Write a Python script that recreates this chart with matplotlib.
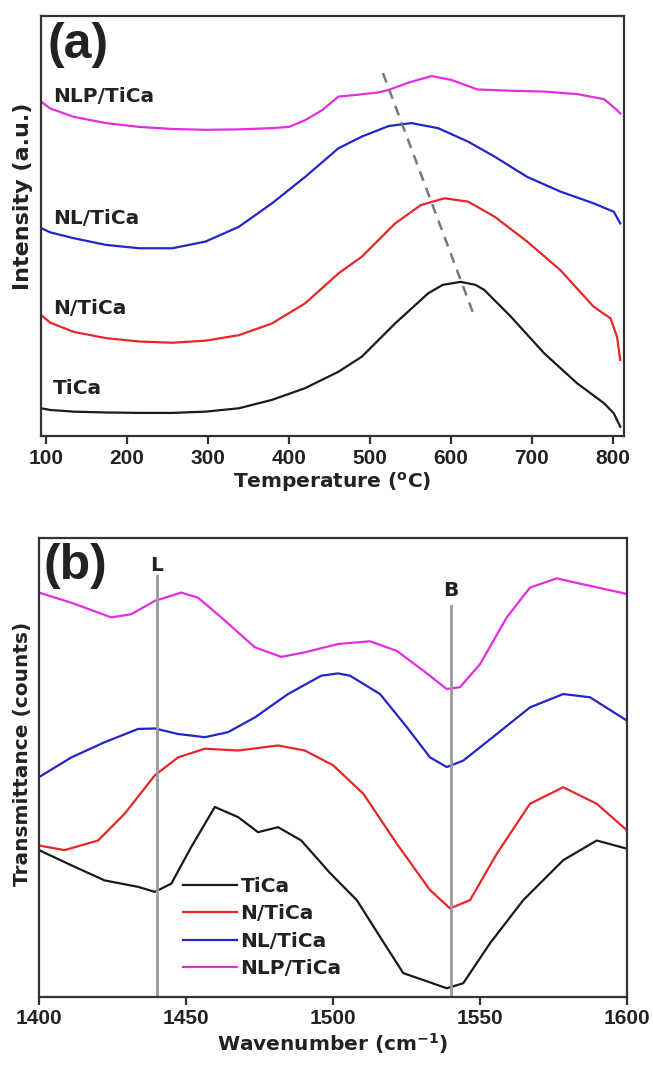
import matplotlib
matplotlib.use("Agg")
import matplotlib.pyplot as plt

plt.rcParams['font.family'] = ['Liberation Sans', 'DejaVu Sans']
plt.rcParams['font.weight'] = 'bold'

# ---------------- Panel (a): TPD, temperature (°C) vs intensity (a.u.) ----------------
t_tica_a = [94, 105, 134, 174, 215, 256, 297, 338, 379, 420, 461, 490, 531, 572, 590, 612, 630, 641, 674, 715, 756, 789, 801, 809]
i_tica_a = [0.066, 0.062, 0.058, 0.056, 0.055, 0.055, 0.058, 0.066, 0.086, 0.114, 0.153, 0.189, 0.268, 0.340, 0.360, 0.367, 0.360, 0.348, 0.284, 0.197, 0.125, 0.078, 0.054, 0.022]

t_n_a = [94, 105, 134, 174, 215, 256, 297, 338, 379, 420, 461, 490, 531, 563, 592, 621, 654, 694, 735, 776, 797, 805, 809]
i_n_a = [0.288, 0.270, 0.248, 0.233, 0.225, 0.222, 0.227, 0.240, 0.268, 0.316, 0.387, 0.427, 0.506, 0.550, 0.566, 0.558, 0.522, 0.463, 0.395, 0.308, 0.280, 0.236, 0.181]

t_nl_a = [94, 105, 134, 174, 215, 256, 297, 338, 379, 420, 461, 490, 523, 551, 584, 621, 654, 694, 735, 776, 801, 809]
i_nl_a = [0.495, 0.485, 0.471, 0.455, 0.447, 0.447, 0.463, 0.498, 0.554, 0.617, 0.685, 0.713, 0.738, 0.745, 0.733, 0.701, 0.665, 0.617, 0.582, 0.554, 0.534, 0.506]

t_nlp_a = [94, 105, 134, 174, 215, 256, 297, 338, 379, 400, 420, 441, 461, 482, 510, 523, 547, 576, 600, 633, 674, 715, 756, 789, 805, 809]
i_nlp_a = [0.796, 0.780, 0.760, 0.745, 0.736, 0.731, 0.729, 0.730, 0.733, 0.736, 0.752, 0.776, 0.808, 0.812, 0.818, 0.824, 0.841, 0.857, 0.848, 0.825, 0.822, 0.820, 0.814, 0.802, 0.776, 0.768]

shift_t = [516, 629]
shift_i = [0.864, 0.284]

a_ticks = [100, 200, 300, 400, 500, 600, 700, 800]
a_names = ['NLP/TiCa', 'NL/TiCa', 'N/TiCa', 'TiCa']
a_name_y = [0.808, 0.518, 0.304, 0.114]

# ---------------- Panel (b): IR, wavenumber (cm-1) vs transmittance ----------------
w_tica = [1400, 1411, 1422.3, 1433.7, 1439.4, 1445, 1451.8, 1459.8, 1467.7, 1474.5, 1481.3, 1489.2, 1499, 1508.1, 1516, 1523.9, 1530.7, 1538.7, 1544.3, 1553.4, 1564.7, 1578.3, 1589.7, 1600]
y_tica = [0.320, 0.287, 0.254, 0.240, 0.229, 0.247, 0.327, 0.414, 0.392, 0.359, 0.370, 0.341, 0.270, 0.211, 0.131, 0.052, 0.037, 0.019, 0.030, 0.117, 0.211, 0.298, 0.341, 0.323]

w_n = [1400, 1408.7, 1420.1, 1429.1, 1439.4, 1447.3, 1456.4, 1467.7, 1481.3, 1490.4, 1500, 1510.3, 1521.7, 1533, 1539.8, 1546.6, 1555.7, 1567, 1578.3, 1589.7, 1600]
y_n = [0.330, 0.320, 0.341, 0.399, 0.483, 0.522, 0.541, 0.537, 0.548, 0.537, 0.505, 0.443, 0.334, 0.233, 0.193, 0.211, 0.312, 0.421, 0.457, 0.421, 0.363]

w_nl = [1400, 1411, 1422.3, 1433.7, 1439.4, 1447.3, 1456.4, 1464.3, 1473.4, 1484.7, 1496, 1501.7, 1505.8, 1516, 1525.1, 1533, 1538.7, 1544.3, 1555.7, 1567, 1578.3, 1587.4, 1600]
y_nl = [0.479, 0.522, 0.555, 0.584, 0.585, 0.573, 0.566, 0.577, 0.609, 0.660, 0.700, 0.705, 0.700, 0.660, 0.588, 0.522, 0.501, 0.515, 0.573, 0.631, 0.660, 0.653, 0.602]

w_nlp = [1400, 1411, 1424.6, 1431.4, 1439.4, 1448.4, 1454.1, 1462, 1473.4, 1482.4, 1490.4, 1501.7, 1512.6, 1521.7, 1530.7, 1538.7, 1543.2, 1550, 1559.1, 1567, 1576.1, 1585.1, 1600]
y_nlp = [0.881, 0.859, 0.827, 0.834, 0.863, 0.881, 0.870, 0.827, 0.762, 0.741, 0.751, 0.769, 0.775, 0.754, 0.711, 0.671, 0.675, 0.725, 0.827, 0.892, 0.912, 0.899, 0.878]

b_ticks = [1400, 1450, 1500, 1550, 1600]
band_pos = [1440, 1540]
band_names = ['L', 'B']
band_top = [0.917, 0.852]
band_name_y = [0.939, 0.886]

colors = ['#1a1a1a', '#e8262a', '#2424c8', '#e22ee2']
series_names = ['TiCa', 'N/TiCa', 'NL/TiCa', 'NLP/TiCa']

fig = plt.figure(figsize=(6.53, 10.71), dpi=100)
W, H = 653, 1071


def add_ax(l, t, r, b):
    return fig.add_axes([l / W, 1 - b / H, (r - l) / W, (b - t) / H])


spine_c = '#333333'
txt_c = '#222222'
tick_fs = 15
lab_fs = 14.5
wide = ['DejaVu Sans']

# ---- Panel (a)
ax1 = add_ax(41, 16, 624, 436)
for t, v, c in [(t_tica_a, i_tica_a, colors[0]), (t_n_a, i_n_a, colors[1]),
                (t_nl_a, i_nl_a, colors[2]), (t_nlp_a, i_nlp_a, colors[3])]:
    ax1.plot(t, v, color=c, lw=1.6, solid_joinstyle='round')
ax1.plot(shift_t, shift_i, color='#777777', lw=1.8, ls=(0, (4, 3)))
ax1.set_xlim(93.8, 813.6)
ax1.set_ylim(0, 1)
ax1.set_xticks(a_ticks)
ax1.set_yticks([])
for lab, yy in zip(a_names, a_name_y):
    ax1.text(0.02, yy, lab, transform=ax1.transAxes, fontsize=lab_fs, fontweight='bold',
             family=wide, va='center', ha='left', color=txt_c)
ax1.text(0.012, 0.932, '(a)', transform=ax1.transAxes, fontsize=36, fontweight='bold',
         va='center', ha='left', color=txt_c)
ax1.set_xlabel('Temperature ($\\mathregular{^o}$C)', fontsize=lab_fs, fontweight='bold',
               family=wide, labelpad=2, color=txt_c)
ax1.set_ylabel('Intensity (a.u.)', fontsize=16, fontweight='bold', family=wide, color=txt_c)
ax1.yaxis.set_label_coords(-0.014, 0.57)

# ---- Panel (b)
ax2 = add_ax(39, 538, 627, 997)
for w, v, c, n in [(w_tica, y_tica, colors[0], series_names[0]), (w_n, y_n, colors[1], series_names[1]),
                   (w_nl, y_nl, colors[2], series_names[2]), (w_nlp, y_nlp, colors[3], series_names[3])]:
    ax2.plot(w, v, color=c, lw=1.6, label=n, solid_joinstyle='round')
for p, nm, tp, ly in zip(band_pos, band_names, band_top, band_name_y):
    ax2.plot([p, p], [0, tp], color='#999999', lw=2)
    ax2.text(p, ly, nm, fontsize=lab_fs, fontweight='bold', family=wide,
             ha='center', va='center', color=txt_c)
ax2.set_xlim(1400, 1600)
ax2.set_ylim(0, 1)
ax2.set_xticks(b_ticks)
ax2.set_yticks([])
ax2.text(0.008, 0.939, '(b)', transform=ax2.transAxes, fontsize=36, fontweight='bold',
         va='center', ha='left', color=txt_c)
ax2.set_xlabel('Wavenumber (cm$\\mathregular{^{-1}}$)', fontsize=lab_fs, fontweight='bold',
               family=wide, labelpad=2, color=txt_c)
ax2.set_ylabel('Transmittance (counts)', fontsize=lab_fs, fontweight='bold', family=wide,
               color=txt_c)
ax2.yaxis.set_label_coords(-0.012, 0.53)
leg = ax2.legend(loc='center left', bbox_to_anchor=(0.245, 0.151), frameon=False,
                 prop={'size': lab_fs, 'weight': 'bold', 'family': wide},
                 handlelength=2.7, handletextpad=0.15, labelspacing=0.42,
                 borderaxespad=0, borderpad=0)
for txt in leg.get_texts():
    txt.set_color(txt_c)

for ax in (ax1, ax2):
    for s in ax.spines.values():
        s.set_color(spine_c)
        s.set_linewidth(1.6)
    ax.tick_params(axis='x', direction='out', length=6, width=1.6, color=spine_c,
                   labelsize=tick_fs, labelcolor=txt_c, pad=3)
    for lab in ax.get_xticklabels():
        lab.set_fontweight('bold')

fig.savefig('out.png', dpi=100)
